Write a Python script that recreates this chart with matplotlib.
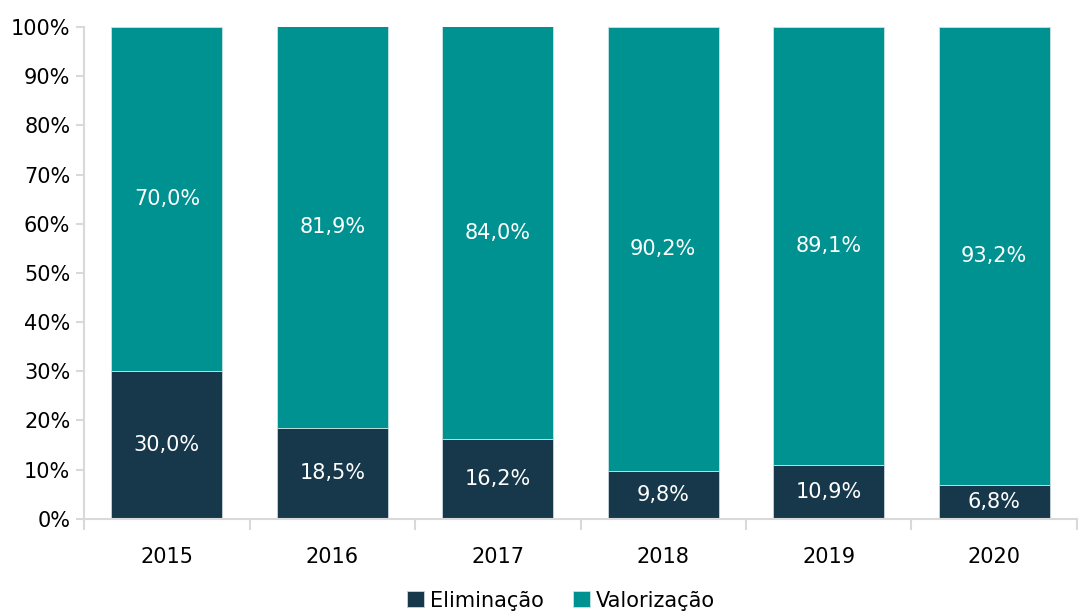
import numpy as np
import matplotlib.pyplot as plt
from matplotlib.ticker import PercentFormatter, FixedLocator

years = ['2015', '2016', '2017', '2018', '2019', '2020']
eliminacao = [30.0, 18.5, 16.2, 9.8, 10.9, 6.8]
valorizacao = [70.0, 81.9, 84.0, 90.2, 89.1, 93.2]

c_elim = '#17384A'
c_val = '#009290'
grey = '#D9D9D9'

fig = plt.figure(figsize=(10.79, 6.14), dpi=100)
ax = fig.add_axes([0.078, 0.155, 0.920, 0.801])

x = np.arange(len(years))
elim = np.array(eliminacao)
val = np.array(valorizacao)
b1 = ax.bar(x, elim, width=0.67, color=c_elim, edgecolor='#c8d6dc', linewidth=0.6, label='Eliminação')
b2 = ax.bar(x, val, width=0.67, bottom=elim, color=c_val, edgecolor='#c8e4e3', linewidth=0.6, label='Valorização')

def fmt(v):
    return f'{v:.1f}%'.replace('.', ',')

for i in range(len(years)):
    ax.text(x[i], elim[i] / 2, fmt(elim[i]), ha='center', va='center', color='white', fontsize=15)
    top = min(elim[i] + val[i], 100)
    ax.text(x[i], (elim[i] + top) / 2, fmt(val[i]), ha='center', va='center', color='white', fontsize=15)

ax.set_ylim(0, 100)
ax.set_xlim(-0.5, len(years) - 0.5)
ax.yaxis.set_major_locator(FixedLocator(np.arange(0, 101, 10)))
ax.yaxis.set_major_formatter(PercentFormatter(decimals=0))
ax.set_xticks(x)
ax.set_xticklabels(years)
ax.set_xticks(np.arange(-0.5, len(years)), minor=True)
ax.tick_params(axis='x', which='major', length=0, pad=20, labelsize=15)
ax.tick_params(axis='x', which='minor', length=8, color=grey, width=1.5, direction='out')
ax.tick_params(axis='y', length=6, color=grey, width=1.5, labelsize=15, pad=4)

for s in ['top', 'right']:
    ax.spines[s].set_visible(False)
for s in ['left', 'bottom']:
    ax.spines[s].set_color(grey)
    ax.spines[s].set_linewidth(1.5)

fig.legend(handles=[b1, b2], loc='lower center', bbox_to_anchor=(0.52, -0.025), ncol=2, frameon=False,
           fontsize=15, handlelength=0.8, handleheight=0.8, handletextpad=0.3, columnspacing=1.4)

fig.savefig('out.png', dpi=100)
